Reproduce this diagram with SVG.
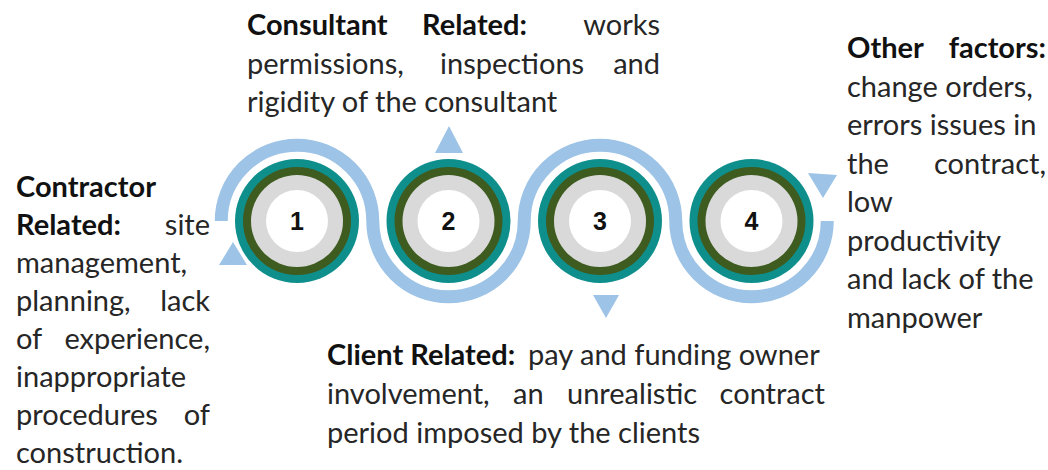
<svg xmlns="http://www.w3.org/2000/svg" width="1048" height="470" viewBox="0 0 1048 470">
<style>
  .t { font-family: Lato, "Open Sans", "Liberation Sans", sans-serif; font-size: 29px; fill: #262626; }
  .b { font-weight: bold; fill: #111; }
  .num { font-family: "Liberation Sans", Arial, sans-serif; font-size: 25px; font-weight: bold; fill: #111; text-anchor: middle; }
  .band { fill: none; stroke: #9DC3E6; stroke-width: 13; }
  .tri { fill: #9DC3E6; }
  .teal { fill: #0F8F8C; }
  .dg { fill: #3E5B20; }
  .gr { fill: #D9D9D9; }
  .wh { fill: #FFFFFF; }
</style>
<rect width="1048" height="470" fill="#FFFFFF"/>
<g id="connectors">
  <path class="band" d="M 221.25 221 A 75.75 75.75 0 0 1 372.75 221 A 75.75 75.75 0 0 0 524.25 221 A 75.75 75.75 0 0 1 675.75 221 A 75.75 75.75 0 0 0 827.25 221"/>
  <polygon class="tri" points="219,265 247,265 233,242"/>
  <polygon class="tri" points="435,153 463,153 449,126"/>
  <polygon class="tri" points="593,295 619,295 606,318"/>
  <polygon class="tri" points="808,173 837,175 823,198"/>
</g>
<g id="node1">
  <circle class="teal" cx="297" cy="221" r="62"/>
  <circle class="dg" cx="297" cy="221" r="54"/>
  <circle class="gr" cx="297" cy="221" r="46"/>
  <circle class="wh" cx="297" cy="221" r="31"/>
  <text class="num" x="297" y="230">1</text>
</g>
<g id="node2">
  <circle class="teal" cx="448.5" cy="221" r="62"/>
  <circle class="dg" cx="448.5" cy="221" r="54"/>
  <circle class="gr" cx="448.5" cy="221" r="46"/>
  <circle class="wh" cx="448.5" cy="221" r="31"/>
  <text class="num" x="448.5" y="230">2</text>
</g>
<g id="node3">
  <circle class="teal" cx="600" cy="221" r="62"/>
  <circle class="dg" cx="600" cy="221" r="54"/>
  <circle class="gr" cx="600" cy="221" r="46"/>
  <circle class="wh" cx="600" cy="221" r="31"/>
  <text class="num" x="600" y="230">3</text>
</g>
<g id="node4">
  <circle class="teal" cx="751.5" cy="221" r="62"/>
  <circle class="dg" cx="751.5" cy="221" r="54"/>
  <circle class="gr" cx="751.5" cy="221" r="46"/>
  <circle class="wh" cx="751.5" cy="221" r="31"/>
  <text class="num" x="751.5" y="230">4</text>
</g>
<g id="label-contractor">
  <text class="t b" x="16" y="197">Contractor</text>
  <text class="t b" x="16" y="235">Related:</text>
  <text class="t" x="210" y="235" text-anchor="end">site</text>
  <text class="t" x="16" y="273">management,</text>
  <text class="t" x="16" y="311">planning,</text>
  <text class="t" x="210" y="311" text-anchor="end">lack</text>
  <text class="t" x="16" y="349">of</text>
  <text class="t" x="210" y="349" text-anchor="end">experience,</text>
  <text class="t" x="16" y="387">inappropriate</text>
  <text class="t" x="16" y="425">procedures</text>
  <text class="t" x="210" y="425" text-anchor="end">of</text>
  <text class="t" x="16" y="463">construction.</text>
</g>
<g id="label-consultant">
  <text class="t b" x="247" y="35">Consultant</text>
  <text class="t b" x="422" y="35">Related:</text>
  <text class="t" x="660" y="35" text-anchor="end">works</text>
  <text class="t" x="247" y="74">permissions,</text>
  <text class="t" x="440" y="74">inspections</text>
  <text class="t" x="660" y="74" text-anchor="end">and</text>
  <text class="t" x="247" y="112">rigidity of the consultant</text>
</g>
<g id="label-client">
  <text class="t b" x="327" y="365">Client Related:</text>
  <text class="t" x="528" y="365">pay and funding owner</text>
  <text class="t" x="327" y="404">involvement,</text>
  <text class="t" x="513" y="404">an</text>
  <text class="t" x="567" y="404">unrealistic</text>
  <text class="t" x="825" y="404" text-anchor="end">contract</text>
  <text class="t" x="327" y="443">period imposed by the clients</text>
</g>
<g id="label-other">
  <text class="t b" x="847" y="58">Other</text>
  <text class="t b" x="1046" y="58" text-anchor="end">factors:</text>
  <text class="t" x="847" y="97">change orders,</text>
  <text class="t" x="847" y="135">errors issues in</text>
  <text class="t" x="847" y="174">the</text>
  <text class="t" x="1046" y="174" text-anchor="end">contract,</text>
  <text class="t" x="847" y="212">low</text>
  <text class="t" x="847" y="251">productivity</text>
  <text class="t" x="847" y="289">and lack of the</text>
  <text class="t" x="847" y="328">manpower</text>
</g>
</svg>
